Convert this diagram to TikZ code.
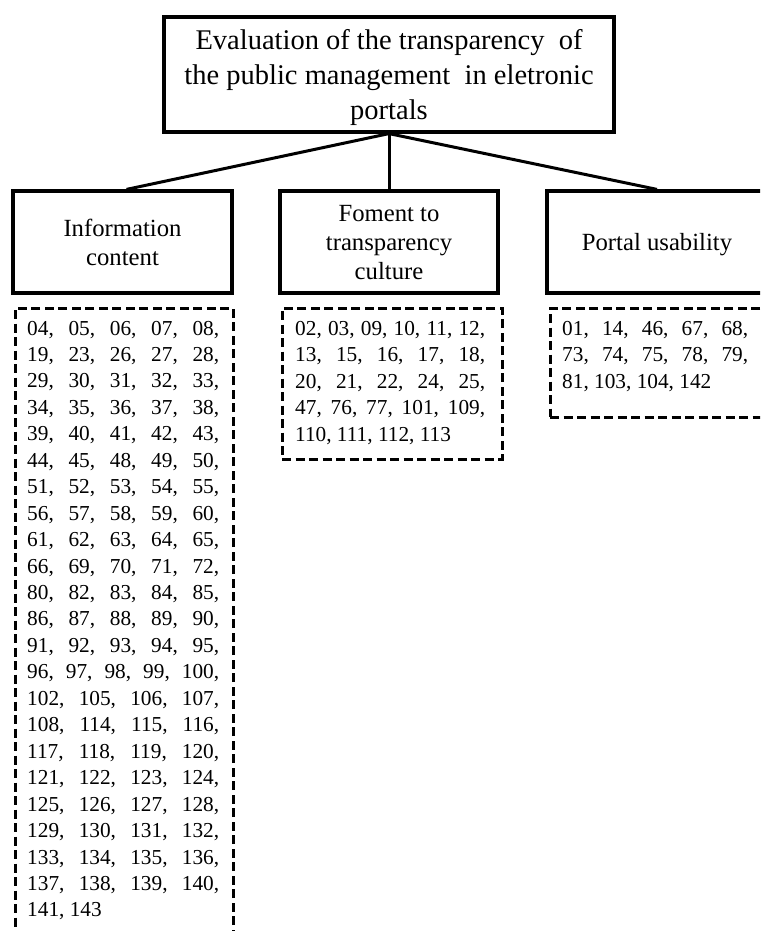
\documentclass[tikz,border=0pt]{standalone}
\usepackage{fontspec}
\setmainfont{Liberation Serif}
\tikzset{
  solidbox/.style={draw, line width=3.2pt, rectangle, inner sep=0pt, align=center, text depth=0pt},
  topfont/.style={font=\fontsize{28.5}{35}\selectfont},
  childfont/.style={font=\fontsize{24.7}{29}\selectfont},
  dbox/.style={draw, line width=3pt, dash pattern=on 9pt off 4.5pt, rectangle, inner sep=0pt},
  numrow/.style={anchor=base west, inner sep=0pt, font=\fontsize{21.3}{26.5}\selectfont},
  link/.style={line width=3pt}
}
\begin{document}
\begin{tikzpicture}[x=1pt, y=-1pt]
\useasboundingbox (0,0) rectangle (760,931);
\clip (0,0) rectangle (760,931);
\fill[white] (0,0) rectangle (760,931);

% top node
\node[solidbox, topfont, minimum width=450, minimum height=115] (top) at (389,74.5)
  {Evaluation of the transparency\ \ of\\the public management\ \ in eletronic\\portals};

% child nodes
\node[solidbox, childfont, minimum width=219, minimum height=102] (info) at (122.5,242)
  {Information\\content};
\node[solidbox, childfont, minimum width=218, minimum height=102] (foment) at (389,242)
  {Foment to\\transparency\\culture};
\node[solidbox, childfont, minimum width=220, minimum height=102] (usab) at (657,242)
  {Portal usability};

% connectors
\draw[link] (top.south) -- ([xshift=4pt]info.north);
\draw[link] (top.south) -- (foment.north);
\draw[link] (top.south) -- (usab.north);

% dashed boxes
\node[dbox, minimum width=218, minimum height=642] (dL) at (124,629) {};
\node[dbox, minimum width=220, minimum height=151] (dM) at (392,383.5) {};
\node[dbox, minimum width=226, minimum height=109] (dR) at (663,362.5) {};

% left rows
\foreach \t [count=\i] in {
  {04, 05, 06, 07, 08,},
  {19, 23, 26, 27, 28,},
  {29, 30, 31, 32, 33,},
  {34, 35, 36, 37, 38,},
  {39, 40, 41, 42, 43,},
  {44, 45, 48, 49, 50,},
  {51, 52, 53, 54, 55,},
  {56, 57, 58, 59, 60,},
  {61, 62, 63, 64, 65,},
  {66, 69, 70, 71, 72,},
  {80, 82, 83, 84, 85,},
  {86, 87, 88, 89, 90,},
  {91, 92, 93, 94, 95,},
  {96, 97, 98, 99, 100,},
  {102, 105, 106, 107,},
  {108, 114, 115, 116,},
  {117, 118, 119, 120,},
  {121, 122, 123, 124,},
  {125, 126, 127, 128,},
  {129, 130, 131, 132,},
  {133, 134, 135, 136,},
  {137, 138, 139, 140,}}
  \node[numrow] (L\i) at ({27},{335+26.45*(\i-1)}) {\makebox[192pt][s]{\t}};
\node[numrow] (L23) at ({27},{335+26.45*22}) {141, 143};

% middle rows
\foreach \t [count=\i] in {
  {02, 03, 09, 10, 11, 12,},
  {13, 15, 16, 17, 18,},
  {20, 21, 22, 24, 25,},
  {47, 76, 77, 101, 109,}}
  \node[numrow] (M\i) at ({295},{335+26.6*(\i-1)}) {\makebox[190pt][s]{\t}};
\node[numrow] (M5) at ({295},{335+26.6*4}) {110, 111, 112, 113};

% right rows
\foreach \t [count=\i] in {
  {01, 14, 46, 67, 68,},
  {73, 74, 75, 78, 79,}}
  \node[numrow] (R\i) at ({562},{335+26.6*(\i-1)}) {\makebox[186pt][s]{\t}};
\node[numrow] (R3) at ({562},{335+26.6*2}) {81, 103, 104, 142};
\end{tikzpicture}
\end{document}
